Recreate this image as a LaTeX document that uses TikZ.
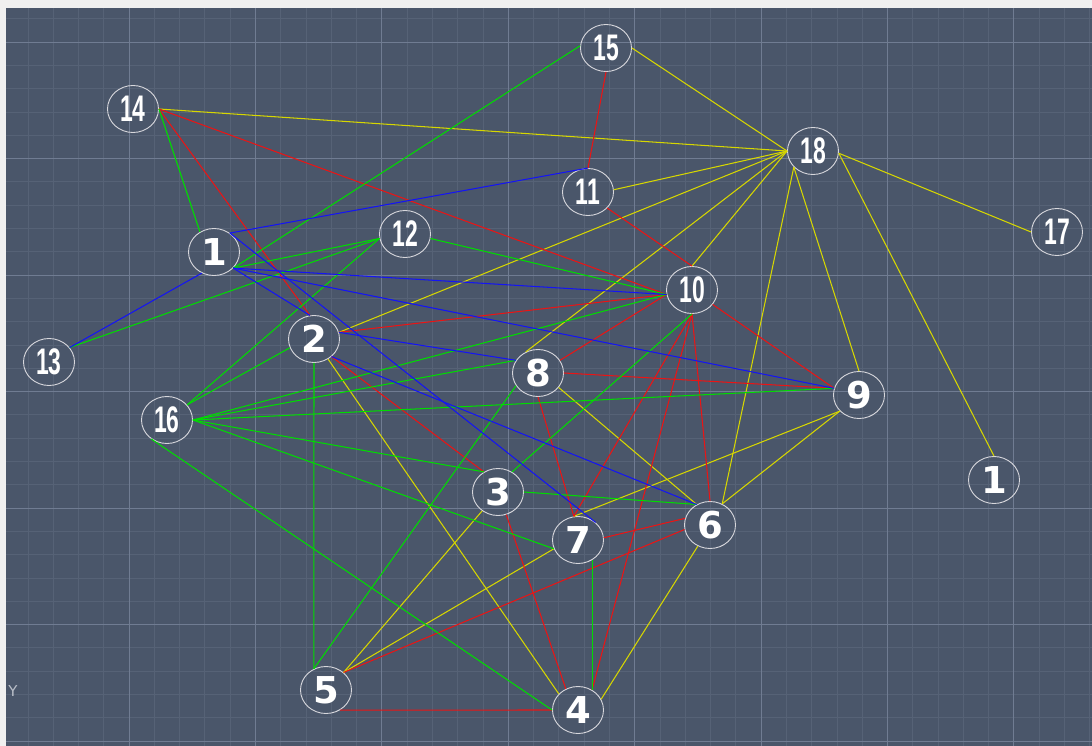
\documentclass[tikz,border=0pt]{standalone}
\usepackage{fontspec}
\usepackage{graphicx}
\setmainfont{DejaVu Sans}
\newfontfamily\narrowfont{Liberation Sans}
\usetikzlibrary{shapes.geometric}
\definecolor{bgc}{RGB}{74,86,106}
\definecolor{bandc}{RGB}{240,240,240}
\definecolor{minorc}{RGB}{86,98,118}
\definecolor{majorc}{RGB}{112,124,146}
\definecolor{circc}{RGB}{215,215,220}
\definecolor{yel}{RGB}{215,215,0}
\definecolor{redc}{RGB}{235,20,20}
\definecolor{grn}{RGB}{0,220,0}
\definecolor{blu}{RGB}{20,20,245}
\newcommand\tnum[1]{{\narrowfont\bfseries\scalebox{0.62}[1]{#1}}}
\tikzset{
  vtx/.style={ellipse, draw=circc, line width=0.9pt, minimum width=51pt,
    minimum height=47pt, inner sep=0pt, text=white,
    font=\bfseries\fontsize{37}{37}\selectfont},
  ye/.style={draw=yel, line width=1.05pt},
  re/.style={draw=redc, line width=1.05pt},
  ge/.style={draw=grn, line width=1.05pt},
  be/.style={draw=blu, line width=1.05pt},
  minorg/.style={draw=minorc, line width=0.7pt},
  majorg/.style={draw=majorc, line width=0.9pt}
}
\begin{document}
\begin{tikzpicture}[x=1pt,y=-1pt]
\useasboundingbox (0,0) rectangle (1092,746);
\fill[bgc] (0,0) rectangle (1092,746);
% grid
\foreach \i in {1,...,43} {\draw[minorg] ({2.6+25.28*\i},8) -- ({2.6+25.28*\i},746);}
\foreach \j in {-1,...,30} {\draw[minorg] (6,{42+23.3*\j}) -- (1092,{42+23.3*\j});}
\foreach \i in {0,...,7} {\draw[majorg] ({129+126.4*\i},8) -- ({129+126.4*\i},746);}
\foreach \j in {0,...,6} {\draw[majorg] (6,{42+116.5*\j}) -- (1092,{42+116.5*\j});}
\fill[bandc] (0,0) rectangle (1092,8);
\fill[bandc] (0,0) rectangle (6,746);
\node[text={rgb,255:red,185;green,190;blue,200}, font=\fontsize{15}{15}\selectfont, inner sep=0pt] (ylab) at (13,691) {Y};

% nodes
\node[vtx] (n14) at (133,109) {\tnum{14}};
\node[vtx] (n1)  at (214,252) {1};
\node[vtx] (n15) at (606,48)  {\tnum{15}};
\node[vtx] (n11) at (588,192) {\tnum{11}};
\node[vtx] (n12) at (405,234) {\tnum{12}};
\node[vtx] (n10) at (692,290) {\tnum{10}};
\node[vtx] (n18) at (813,151) {\tnum{18}};
\node[vtx] (n17) at (1057,232) {\tnum{17}};
\node[vtx] (n13) at (49,362)  {\tnum{13}};
\node[vtx] (n2)  at (314,339) {2};
\node[vtx] (n16) at (167,420) {\tnum{16}};
\node[vtx] (n8)  at (538,373) {8};
\node[vtx] (n3)  at (498,492) {3};
\node[vtx] (n7)  at (578,540) {7};
\node[vtx] (n6)  at (710,525) {6};
\node[vtx] (n9)  at (859,395) {9};
\node[vtx] (n1b) at (994,480) {1};
\node[vtx] (n5)  at (326,690) {5};
\node[vtx] (n4)  at (578,710) {4};

% yellow
\draw[ye] (n14.east) -- (n18.180);
\draw[ye] (n15.0) -- (n18.180);
\draw[ye] (n11.5) -- (n18.180);
\draw[ye] (n2.15) -- (n18.180);
\draw[ye] (n8.120) -- (n18.180);
\draw[ye] (n10.90) -- (n18.180);
\draw[ye] (n18.-140) -- (n6.60);
\draw[ye] (n18.-140) -- (n9.90);
\draw[ye] (n18.-5) -- (n17.180);
\draw[ye] (n18.-5) -- (n1b.90);
\draw[ye] (n2.-55) -- (n4.140);
\draw[ye] (n8.-35) -- (n6.123);
\draw[ye] (n9.-140) -- (n7.100);
\draw[ye] (n9.-140) -- (n6.60);
\draw[ye] (n6.-120) -- (n4.25);
\draw[ye] (n3.-130) -- (n5.45);
\draw[ye] (n5.45) -- (n7.200);

% red
\draw[re] (n14.east) -- (n10.190);
\draw[re] (n14.east) -- (n2.100);
\draw[re] (n15.-90) -- (n11.90);
\draw[re] (n11.-40) -- (n10.90);
\draw[re] (n2.15) -- (n10.190);
\draw[re] (n2.-45) -- (n3.125);
\draw[re] (n10.-35) -- (n9.165);
\draw[re] (n8.30) -- (n10.190);
\draw[re] (n8.0) -- (n9.165);
\draw[re] (n8.-90) -- (n7.100);
\draw[re] (n10.-90) -- (n7.100);
\draw[re] (n10.-90) -- (n4.55);
\draw[re] (n10.-90) -- (n6.90);
\draw[re] (n3.-70) -- (n4.120);
\draw[re] (n7.5) -- (n6.165);
\draw[re] (n5.45) -- (n6.190);
\draw[re] (n5.-55) -- (n4.180);

% green
\draw[ge] (n14.east) -- (n1.125);
\draw[ge] (n15.175) -- (n1.-40);
\draw[ge] (n1.-40) -- (n12.190);
\draw[ge] (n13.35) -- (n12.190);
\draw[ge] (n16.37) -- (n12.190);
\draw[ge] (n12.-10) -- (n10.190);
\draw[ge] (n16.37) -- (n2.200);
\draw[ge] (n2.-90) -- (n5.120);
\draw[ge] (n16.-130) -- (n4.180);
\draw[ge] (n5.120) -- (n8.-150);
\draw[ge] (n10.-90) -- (n3.55);
\draw[ge] (n3.0) -- (n6.123);
\draw[ge] (n16.0) -- (n3.125);
\draw[ge] (n16.0) -- (n7.200);
\draw[ge] (n16.0) -- (n9.165);
\draw[ge] (n16.0) -- (n10.190);
\draw[ge] (n16.0) -- (n8.150);
\draw[ge] (n7.-55) -- (n4.55);

% blue
\draw[be] (n1.50) -- (n11.90);
\draw[be] (n1.-120) -- (n13.35);
\draw[be] (n1.-40) -- (n10.190);
\draw[be] (n1.-40) -- (n9.165);
\draw[be] (n1.50) -- (n7.45);
\draw[be] (n1.-40) -- (n2.100);
\draw[be] (n2.15) -- (n8.150);
\draw[be] (n2.-45) -- (n6.123);
\end{tikzpicture}
\end{document}
